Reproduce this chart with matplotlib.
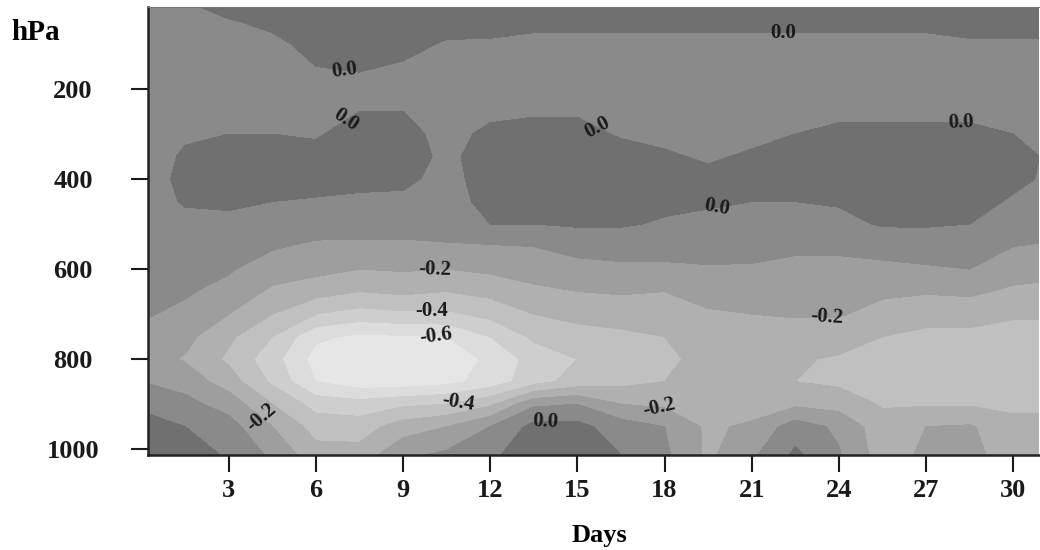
import matplotlib
matplotlib.use("Agg")
import matplotlib.pyplot as plt
from matplotlib.colors import ListedColormap, BoundaryNorm
import numpy as np

# days and pressure levels of the grid
days = [0, 1.5, 3, 4.5, 6, 7.5, 9, 10.5, 12, 13.5, 15, 16.5, 18, 19.5, 21,
        22.5, 24, 25.5, 27, 28.5, 30, 31.5]
pressure = [10, 50, 100, 150, 200, 250, 300, 350, 400, 450, 500, 550, 600,
            650, 700, 750, 800, 850, 900, 950, 1013]

# one profile per day (values at each pressure level, top to bottom)
profiles = [
    [-0.05, -0.05, -0.06, -0.07, -0.07, -0.06, -0.05, -0.04, -0.04, -0.05, -0.05, -0.06, -0.07, -0.08, -0.09, -0.12, -0.15, -0.10, -0.02, 0.04, 0.06],
    [-0.01, -0.02, -0.06, -0.08, -0.07, -0.04, -0.01, 0.01, 0.02, 0.01, -0.03, -0.05, -0.07, -0.09, -0.12, -0.17, -0.21, -0.14, -0.07, 0.00, 0.04],
    [0.06, -0.01, -0.05, -0.07, -0.05, -0.03, 0.00, 0.05, 0.05, 0.02, -0.03, -0.06, -0.09, -0.13, -0.20, -0.28, -0.32, -0.25, -0.14, -0.06, -0.01],
    [0.08, 0.03, -0.03, -0.06, -0.05, -0.03, 0.00, 0.04, 0.05, 0.00, -0.04, -0.09, -0.15, -0.22, -0.30, -0.40, -0.46, -0.42, -0.30, -0.20, -0.12],
    [0.10, 0.07, 0.04, 0.00, -0.04, -0.03, -0.01, 0.03, 0.04, -0.01, -0.05, -0.12, -0.17, -0.26, -0.40, -0.58, -0.64, -0.60, -0.44, -0.34, -0.26],
    [0.10, 0.08, 0.05, 0.01, -0.03, 0.00, 0.04, 0.05, 0.03, -0.02, -0.06, -0.12, -0.20, -0.30, -0.44, -0.62, -0.70, -0.66, -0.46, -0.35, -0.26],
    [0.10, 0.07, 0.03, -0.01, -0.04, 0.00, 0.03, 0.04, 0.02, -0.02, -0.06, -0.12, -0.19, -0.28, -0.42, -0.61, -0.69, -0.66, -0.42, -0.25, -0.12],
    [0.08, 0.04, -0.01, -0.04, -0.05, -0.04, -0.03, -0.02, -0.03, -0.04, -0.06, -0.11, -0.20, -0.30, -0.42, -0.60, -0.66, -0.63, -0.40, -0.20, -0.08],
    [0.07, 0.03, -0.01, -0.04, -0.05, -0.02, 0.02, 0.04, 0.04, 0.03, 0.00, -0.11, -0.18, -0.27, -0.37, -0.50, -0.58, -0.56, -0.32, -0.10, -0.02],
    [0.06, 0.02, -0.02, -0.04, -0.04, -0.01, 0.03, 0.05, 0.05, 0.03, 0.00, -0.10, -0.16, -0.22, -0.30, -0.38, -0.46, -0.44, -0.12, 0.03, 0.06],
    [0.06, 0.02, -0.02, -0.04, -0.04, -0.01, 0.03, 0.05, 0.06, 0.04, 0.01, -0.06, -0.14, -0.20, -0.27, -0.34, -0.40, -0.36, -0.10, 0.03, 0.06],
    [0.06, 0.02, -0.02, -0.04, -0.04, -0.02, -0.01, 0.04, 0.05, 0.04, 0.01, -0.06, -0.12, -0.19, -0.26, -0.32, -0.36, -0.33, -0.20, -0.05, 0.00],
    [0.06, 0.02, -0.02, -0.04, -0.05, -0.04, -0.02, 0.01, 0.03, 0.02, -0.01, -0.06, -0.12, -0.20, -0.25, -0.30, -0.32, -0.30, -0.22, -0.10, -0.08],
    [0.06, 0.02, -0.02, -0.04, -0.05, -0.05, -0.03, -0.01, 0.02, 0.01, -0.02, -0.06, -0.11, -0.17, -0.21, -0.25, -0.27, -0.27, -0.25, -0.22, -0.22],
    [0.06, 0.02, -0.02, -0.04, -0.05, -0.04, -0.02, 0.01, 0.03, 0.00, -0.03, -0.07, -0.11, -0.15, -0.20, -0.26, -0.28, -0.28, -0.26, -0.18, -0.12],
    [0.06, 0.02, -0.02, -0.04, -0.05, -0.03, 0.00, 0.03, 0.04, 0.00, -0.03, -0.08, -0.13, -0.16, -0.19, -0.25, -0.29, -0.30, -0.22, -0.05, 0.02],
    [0.06, 0.02, -0.02, -0.04, -0.05, -0.02, 0.02, 0.04, 0.05, 0.01, -0.03, -0.08, -0.13, -0.16, -0.19, -0.26, -0.31, -0.32, -0.24, -0.12, -0.09],
    [0.06, 0.02, -0.02, -0.04, -0.05, -0.02, 0.02, 0.05, 0.06, 0.04, 0.01, -0.07, -0.12, -0.18, -0.24, -0.30, -0.33, -0.33, -0.31, -0.26, -0.25],
    [0.06, 0.02, -0.02, -0.04, -0.05, -0.02, 0.02, 0.05, 0.06, 0.04, 0.01, -0.06, -0.11, -0.19, -0.27, -0.32, -0.34, -0.34, -0.31, -0.20, -0.18],
    [0.07, 0.03, -0.01, -0.04, -0.05, -0.02, 0.02, 0.05, 0.05, 0.03, 0.00, -0.05, -0.10, -0.18, -0.27, -0.32, -0.34, -0.34, -0.31, -0.19, -0.17],
    [0.07, 0.03, -0.01, -0.04, -0.05, -0.03, 0.00, 0.03, 0.02, -0.01, -0.06, -0.10, -0.15, -0.22, -0.29, -0.33, -0.35, -0.35, -0.33, -0.26, -0.25],
    [0.07, 0.03, -0.01, -0.04, -0.05, -0.04, -0.03, -0.02, -0.02, -0.04, -0.07, -0.11, -0.18, -0.22, -0.29, -0.33, -0.35, -0.35, -0.33, -0.26, -0.25],
]

levels = [-0.8, -0.7, -0.6, -0.5, -0.4, -0.3, -0.2, -0.1, 0.0, 0.1, 0.2]
grays = [236, 230, 220, 206, 192, 176, 158, 138, 112, 96]
label_spots = {
    0.0: [(22.1, 80), (7.0, 153), (7.2, 284), (15.7, 284), (28.2, 298),
          (19.9, 502), (13.9, 973)],
    -0.2: [(10.1, 596), (4.2, 924), (17.8, 920), (23.6, 709)],
    -0.4: [(10.0, 709), (10.9, 902)],
    -0.6: [(10.1, 791)],
}

plt.rcParams["font.family"] = ["Liberation Serif", "DejaVu Serif"]
plt.rcParams["font.weight"] = "bold"

Z = np.array(profiles).T
cmap = ListedColormap([(g / 255, g / 255, g / 255) for g in grays])
norm = BoundaryNorm(levels, cmap.N)

fig = plt.figure(figsize=(10.4, 5.5), dpi=100)
ax = fig.add_axes([0.1423, 0.1727, 0.857, 0.8145])
ax.contourf(days, pressure, Z, levels=levels, cmap=cmap, norm=norm)

# labels only, the contour lines themselves are not drawn
for lev, spots in label_spots.items():
    cs = ax.contour(days, pressure, Z, levels=[lev], linewidths=0)
    ax.clabel(cs, manual=spots, inline=False, fmt="%.1f", colors="#1a1a1a",
              fontsize=15)

ax.set_xlim(0.22, 30.9)
ax.set_ylim(1013, 18)
ax.set_xticks(range(3, 31, 3))
ax.set_yticks([200, 400, 600, 800, 1000])
ax.tick_params(axis="both", direction="out", length=12, width=1.5,
               labelsize=19, colors="#1a1a1a")
ax.tick_params(axis="y", pad=42)
ax.tick_params(axis="x", pad=5)
for lab in ax.get_yticklabels():
    lab.set_horizontalalignment("center")
for lab in ax.get_xticklabels() + ax.get_yticklabels():
    lab.set_fontweight("bold")

ax.spines["left"].set_linewidth(1.8)
ax.spines["bottom"].set_linewidth(1.8)
ax.spines["left"].set_color("#222222")
ax.spines["bottom"].set_color("#222222")
ax.spines["top"].set_color("#777777")
ax.spines["right"].set_visible(False)

fig.text(0.0346, 0.94, "hPa", ha="center", va="center", fontsize=21,
         fontweight="bold")
fig.text(0.576, 0.027, "Days", ha="center", va="center", fontsize=19,
         fontweight="bold")

fig.savefig("out.png", dpi=100)
